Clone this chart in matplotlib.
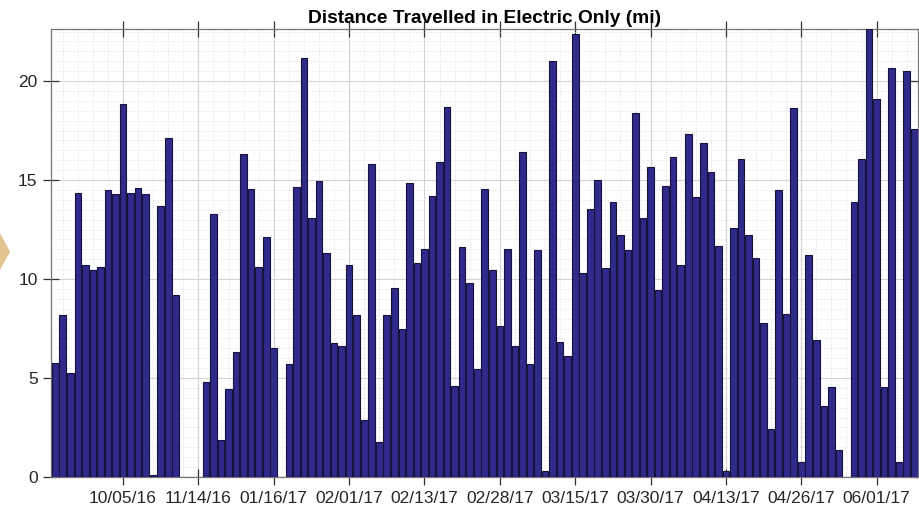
import numpy as np
import matplotlib.pyplot as plt
from matplotlib.patches import Polygon
from matplotlib.ticker import MultipleLocator

# distance driven on electric only, one bar per trip day (mi)
dist = [5.74, 8.18, 5.24, 14.33, 10.7, 10.45, 10.6, 14.5, 14.3, 18.84,
        14.36, 14.6, 14.3, 0.08, 13.7, 17.1, 9.2, 0, 0, 0,
        4.78, 13.27, 1.87, 4.44, 6.33, 16.3, 14.55, 10.6, 12.1, 6.53,
        0, 5.69, 14.66, 21.14, 13.06, 14.95, 11.33, 6.75, 6.62, 10.7,
        8.18, 2.88, 15.8, 1.78, 8.18, 9.53, 7.5, 14.83, 10.82, 11.5,
        14.19, 15.89, 18.7, 4.6, 11.6, 9.78, 5.45, 14.53, 10.45, 7.63,
        11.5, 6.63, 16.43, 5.69, 11.46, 0.32, 21.0, 6.8, 6.13, 22.4,
        10.32, 13.52, 15.0, 10.54, 13.9, 12.22, 11.46, 18.4, 13.06, 15.64,
        9.44, 14.7, 16.14, 10.7, 17.32, 14.12, 16.88, 15.42, 11.68, 0.32,
        12.6, 16.04, 12.22, 11.08, 7.76, 2.42, 14.5, 8.23, 18.62, 0.77,
        11.2, 6.92, 3.59, 4.53, 1.36, 0, 13.9, 16.04, 22.63, 19.09,
        4.53, 20.64, 0.77, 20.5, 17.58]

tick_pos = [10, 20, 30, 40, 50, 60, 70, 80, 90, 100, 110]
tick_labels = ['10/05/16', '11/14/16', '01/16/17', '02/01/17', '02/13/17',
               '02/28/17', '03/15/17', '03/30/17', '04/13/17', '04/26/17',
               '06/01/17']

plt.rcParams['font.family'] = ['Liberation Sans', 'DejaVu Sans']

fig = plt.figure(figsize=(9.19, 5.16), dpi=100)
ax = fig.add_axes([0.056, 0.0756, 0.943, 0.8682])

idx = np.arange(1, len(dist) + 1)
ax.bar(idx, dist, width=0.88, color='#302a8a', edgecolor='#15123c',
       linewidth=0.8, zorder=3)

ax.set_xlim(0.5, len(dist) + 0.5)
ax.set_ylim(0, max(dist))
ax.set_xticks(tick_pos)
ax.set_xticklabels(tick_labels)
ax.set_yticks([0, 5, 10, 15, 20])
ax.xaxis.set_minor_locator(MultipleLocator(2))
ax.yaxis.set_minor_locator(MultipleLocator(0.5))

# matlab look: box on, ticks through the axis, major + minor grid
ax.tick_params(which='major', direction='inout', length=12, width=0.9,
               color='#333333', labelsize=12.5, labelcolor='#262626',
               top=True, right=True, pad=4)
ax.tick_params(which='minor', length=0)
ax.grid(which='major', color='#d4d4d4', linewidth=0.8, zorder=0)
ax.grid(which='minor', color='#dcdcdc', linewidth=0.6, linestyle=':', zorder=0)
for s in ax.spines.values():
    s.set_color('#777777')
    s.set_linewidth(0.9)

ax.set_title('Distance Travelled in Electric Only (mi)', fontsize=13.8,
             fontweight='bold', pad=4)

# bit of the slide decoration poking in on the left
fig.patches.append(Polygon([[0, 0.548], [0.011, 0.512], [0, 0.477]],
                           closed=True, transform=fig.transFigure,
                           facecolor='#e3c48e', edgecolor='none'))

fig.savefig('out.png', dpi=100)
